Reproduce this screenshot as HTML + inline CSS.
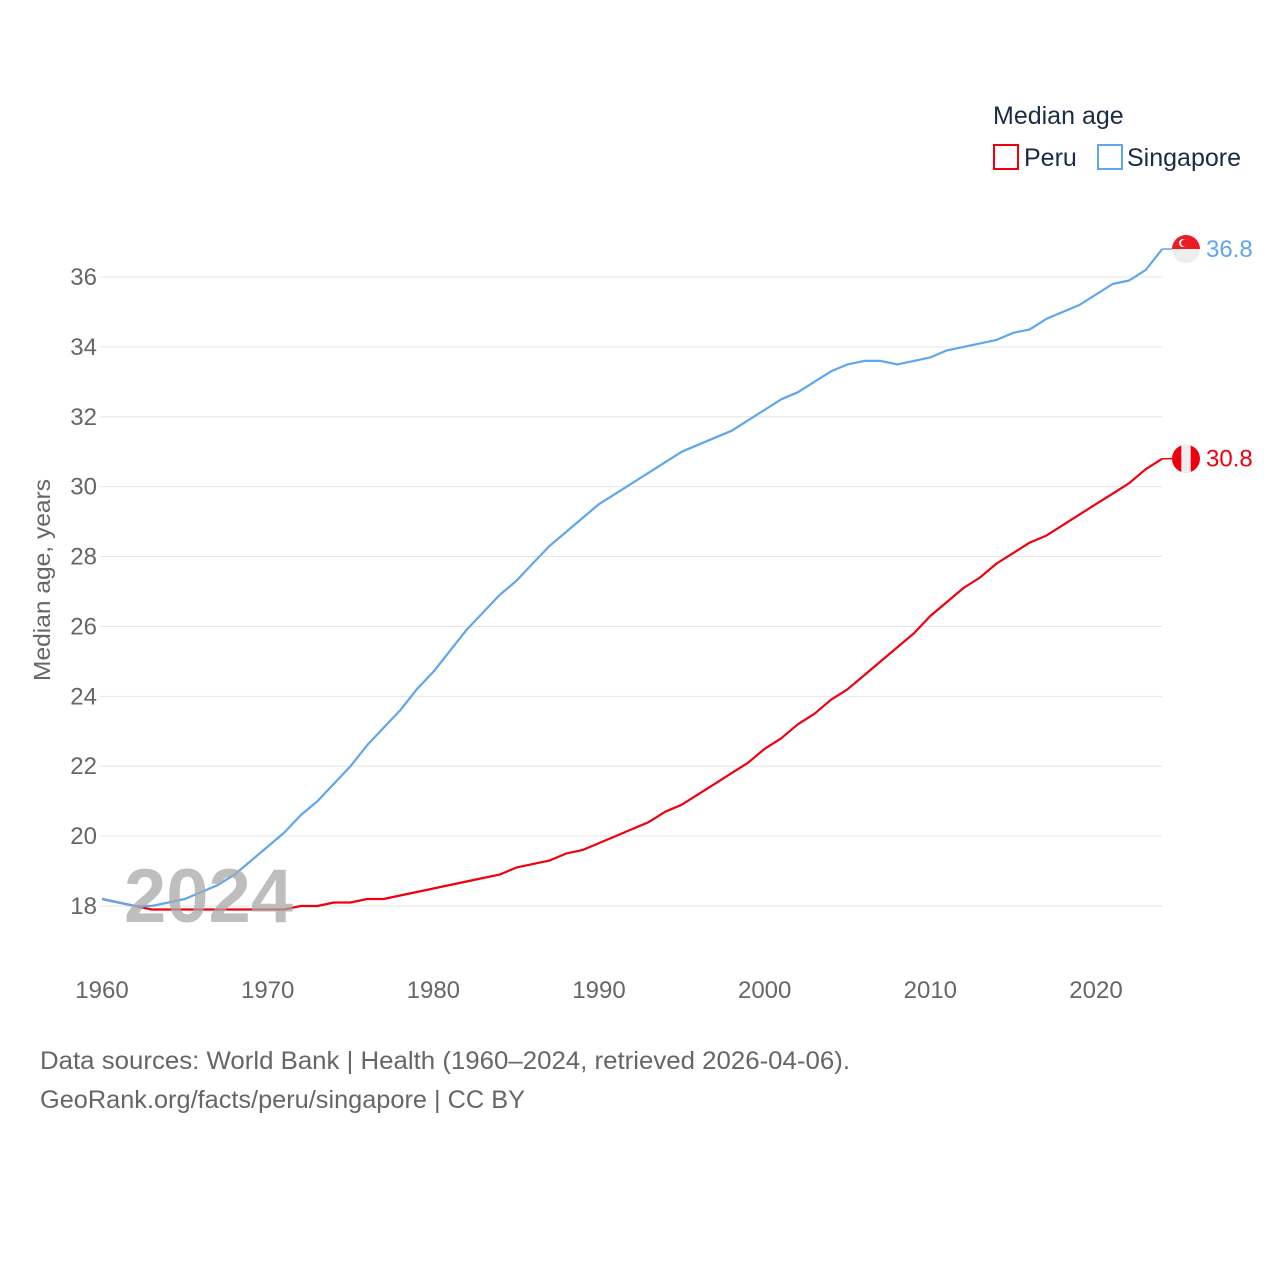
<!DOCTYPE html>
<html><head><meta charset="utf-8">
<style>
body{margin:0;background:#fff;font-family:"Liberation Sans",sans-serif;}
svg text{font-family:"Liberation Sans",sans-serif;}
</style></head>
<body>
<svg id="chart" width="1280" height="1280" viewBox="0 0 1280 1280">
<g id="grid"></g>
<g id="yticks"></g>
<g id="xticks"></g>
<g id="series"></g>
<text x="124" y="922" font-size="76" font-weight="bold" fill="#a8a8a8" fill-opacity="0.75">2024</text>
<g id="markers"></g>
<text transform="translate(50,580) rotate(-90)" text-anchor="middle" font-size="23" fill="#666" textLength="202" lengthAdjust="spacingAndGlyphs">Median age, years</text>
<g>
<text x="993" y="124" font-size="25" fill="#1a2b45">Median age</text>
<g>
<rect x="994" y="145" width="24" height="24" fill="none" stroke="#f0000e" stroke-width="2"/>
<text x="1024" y="166" font-size="25" fill="#1a2b45">Peru</text></g>
<g>
<rect x="1098" y="145" width="24" height="24" fill="none" stroke="#5ea6ee" stroke-width="2"/>
<text x="1127" y="166" font-size="25" fill="#1a2b45">Singapore</text></g>
</g>
<text x="40" y="1069" font-size="25" fill="#666" textLength="810" lengthAdjust="spacingAndGlyphs">Data sources: World Bank | Health (1960–2024, retrieved 2026-04-06).</text>
<text x="40" y="1108" font-size="25" fill="#666" textLength="485" lengthAdjust="spacingAndGlyphs">GeoRank.org/facts/peru/singapore | CC BY</text>
</svg>
<script>
const years=[];for(let y=1960;y<=2024;y++)years.push(y);
const singapore=[18.2,18.1,18.0,18.0,18.1,18.2,18.4,18.6,18.9,19.3,19.7,20.1,20.6,21.0,21.5,22.0,22.6,23.1,23.6,24.2,24.7,25.3,25.9,26.4,26.9,27.3,27.8,28.3,28.7,29.1,29.5,29.8,30.1,30.4,30.7,31.0,31.2,31.4,31.6,31.9,32.2,32.5,32.7,33.0,33.3,33.5,33.6,33.6,33.5,33.6,33.7,33.9,34.0,34.1,34.2,34.4,34.5,34.8,35.0,35.2,35.5,35.8,35.9,36.2,36.8];
const peru=[18.2,18.1,18.0,17.9,17.9,17.9,17.9,17.9,17.9,17.9,17.9,17.9,18.0,18.0,18.1,18.1,18.2,18.2,18.3,18.4,18.5,18.6,18.7,18.8,18.9,19.1,19.2,19.3,19.5,19.6,19.8,20.0,20.2,20.4,20.7,20.9,21.2,21.5,21.8,22.1,22.5,22.8,23.2,23.5,23.9,24.2,24.6,25.0,25.4,25.8,26.3,26.7,27.1,27.4,27.8,28.1,28.4,28.6,28.9,29.2,29.5,29.8,30.1,30.5,30.8];
const yTicks=[18,20,22,24,26,28,30,32,34,36];
const xTicks=[1960,1970,1980,1990,2000,2010,2020];
const NS="http://www.w3.org/2000/svg";
const x=v=>102+(v-1960)*(1096-102)/60;
const y=v=>906-(v-18)*(906-277)/18;
function mk(tag,attrs,parent){const e=document.createElementNS(NS,tag);for(const k in attrs)e.setAttribute(k,attrs[k]);parent.appendChild(e);return e;}
const grid=document.getElementById('grid'),yt=document.getElementById('yticks'),xt=document.getElementById('xticks'),ser=document.getElementById('series'),mks=document.getElementById('markers');
yTicks.forEach(t=>{
 const l=mk('line',{x1:100,x2:1162,y1:y(t),y2:y(t),stroke:'#e6e6e6','stroke-width':1},grid);
 
 
 const tx=mk('text',{x:97,y:y(t)+8,'text-anchor':'end','font-size':24,fill:'#666'},yt);
 tx.textContent=t;
 
 
});
xTicks.forEach(t=>{
 const tx=mk('text',{x:x(t),y:998,'text-anchor':'middle','font-size':24,fill:'#666'},xt);
 tx.textContent=t;
 
 
});
function line(vals,color,name){
 const d=vals.map((v,i)=>(i?'L':'M')+x(years[i]).toFixed(1)+','+y(v).toFixed(1)).join('');
 const p=mk('path',{d:d,fill:'none',stroke:color,'stroke-width':2.2,'stroke-linejoin':'round'},ser);
 
 
 const last=vals[vals.length-1],lx=x(years[years.length-1]),ly=y(last);
 mk('line',{x1:lx,x2:lx+10,y1:ly,y2:ly,stroke:color,'stroke-width':1.5},mks);
 const lbl=mk('text',{x:1206,y:ly+8,'font-size':24,fill:color},mks);
 lbl.textContent=last.toFixed(1);
 
 
 return ly;
}
const py=line(peru,'#f0000e','peru');
const sy=line(singapore,'#5ea6ee','singapore');
const cx=1186,r=14;
const fs=mk('g',{},mks);


mk('circle',{cx:cx,cy:sy,r:r,fill:'#eeeeee'},fs);
mk('path',{d:`M${cx-r},${sy} A${r},${r} 0 0 1 ${cx+r},${sy} Z`,fill:'#ee1c25'},fs);
mk('circle',{cx:cx-3,cy:sy-6,r:4,fill:'#fff'},fs);
mk('circle',{cx:cx-1.5,cy:sy-6,r:3.5,fill:'#ee1c25'},fs);
const fp=mk('g',{},mks);


mk('circle',{cx:cx,cy:py,r:r,fill:'#f0000e'},fp);
mk('rect',{x:cx-4.7,y:py-r,width:9.4,height:2*r,fill:'#eeeeee'},fp);
</script>
</body></html>
